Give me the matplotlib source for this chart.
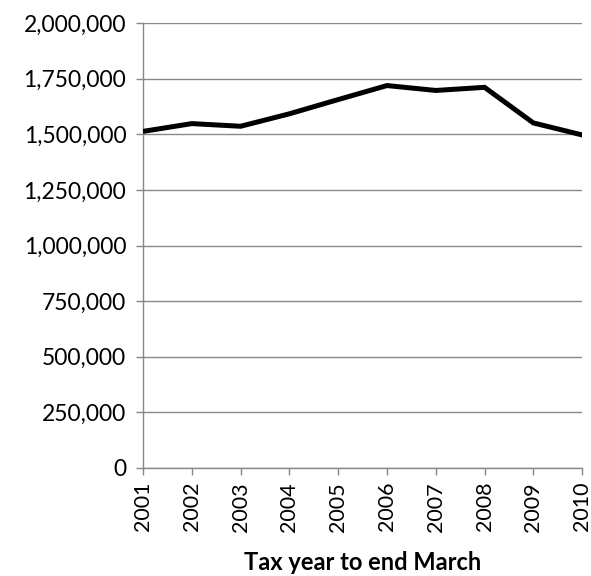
import matplotlib
matplotlib.use("Agg")
import matplotlib.pyplot as plt
from matplotlib.ticker import FuncFormatter, MultipleLocator

years = [2001, 2002, 2003, 2004, 2005, 2006, 2007, 2008, 2009, 2010]
values = [1513000, 1548000, 1536000, 1592000, 1656000, 1719000, 1697000, 1711000, 1551000, 1497000]
x_label = "Tax year to end March"

plt.rcParams['font.family'] = ['Lato', 'DejaVu Sans']

fig = plt.figure(figsize=(5.91, 5.76), dpi=100)
ax = fig.add_axes([0.242, 0.1875, 0.743, 0.7725])

grid_c = '#888888'
ax.plot(years, values, color='black', lw=3.6, solid_joinstyle='miter', zorder=3)
ax.set_xlim(years[0], years[-1])
ax.set_ylim(0, 2000000)
ax.yaxis.set_major_locator(MultipleLocator(250000))
ax.yaxis.set_major_formatter(FuncFormatter(lambda v, p: f"{int(v):,}"))
ax.set_xticks(years)
ax.set_xticklabels([str(y) for y in years], rotation=90)
ax.grid(axis='y', color=grid_c, lw=1)
ax.set_axisbelow(True)
for s in ['top', 'right']:
    ax.spines[s].set_visible(False)
for s in ['left', 'bottom']:
    ax.spines[s].set_color(grid_c)
    ax.spines[s].set_linewidth(1)
ax.tick_params(axis='both', colors=grid_c, labelcolor='black', length=5, width=1)
ax.tick_params(axis='y', pad=7, labelsize=16.5)
ax.tick_params(axis='x', pad=5, labelsize=15.5)
ax.set_xlabel(x_label, fontsize=17, fontweight='bold', labelpad=14)

fig.savefig("out.png", dpi=100)
